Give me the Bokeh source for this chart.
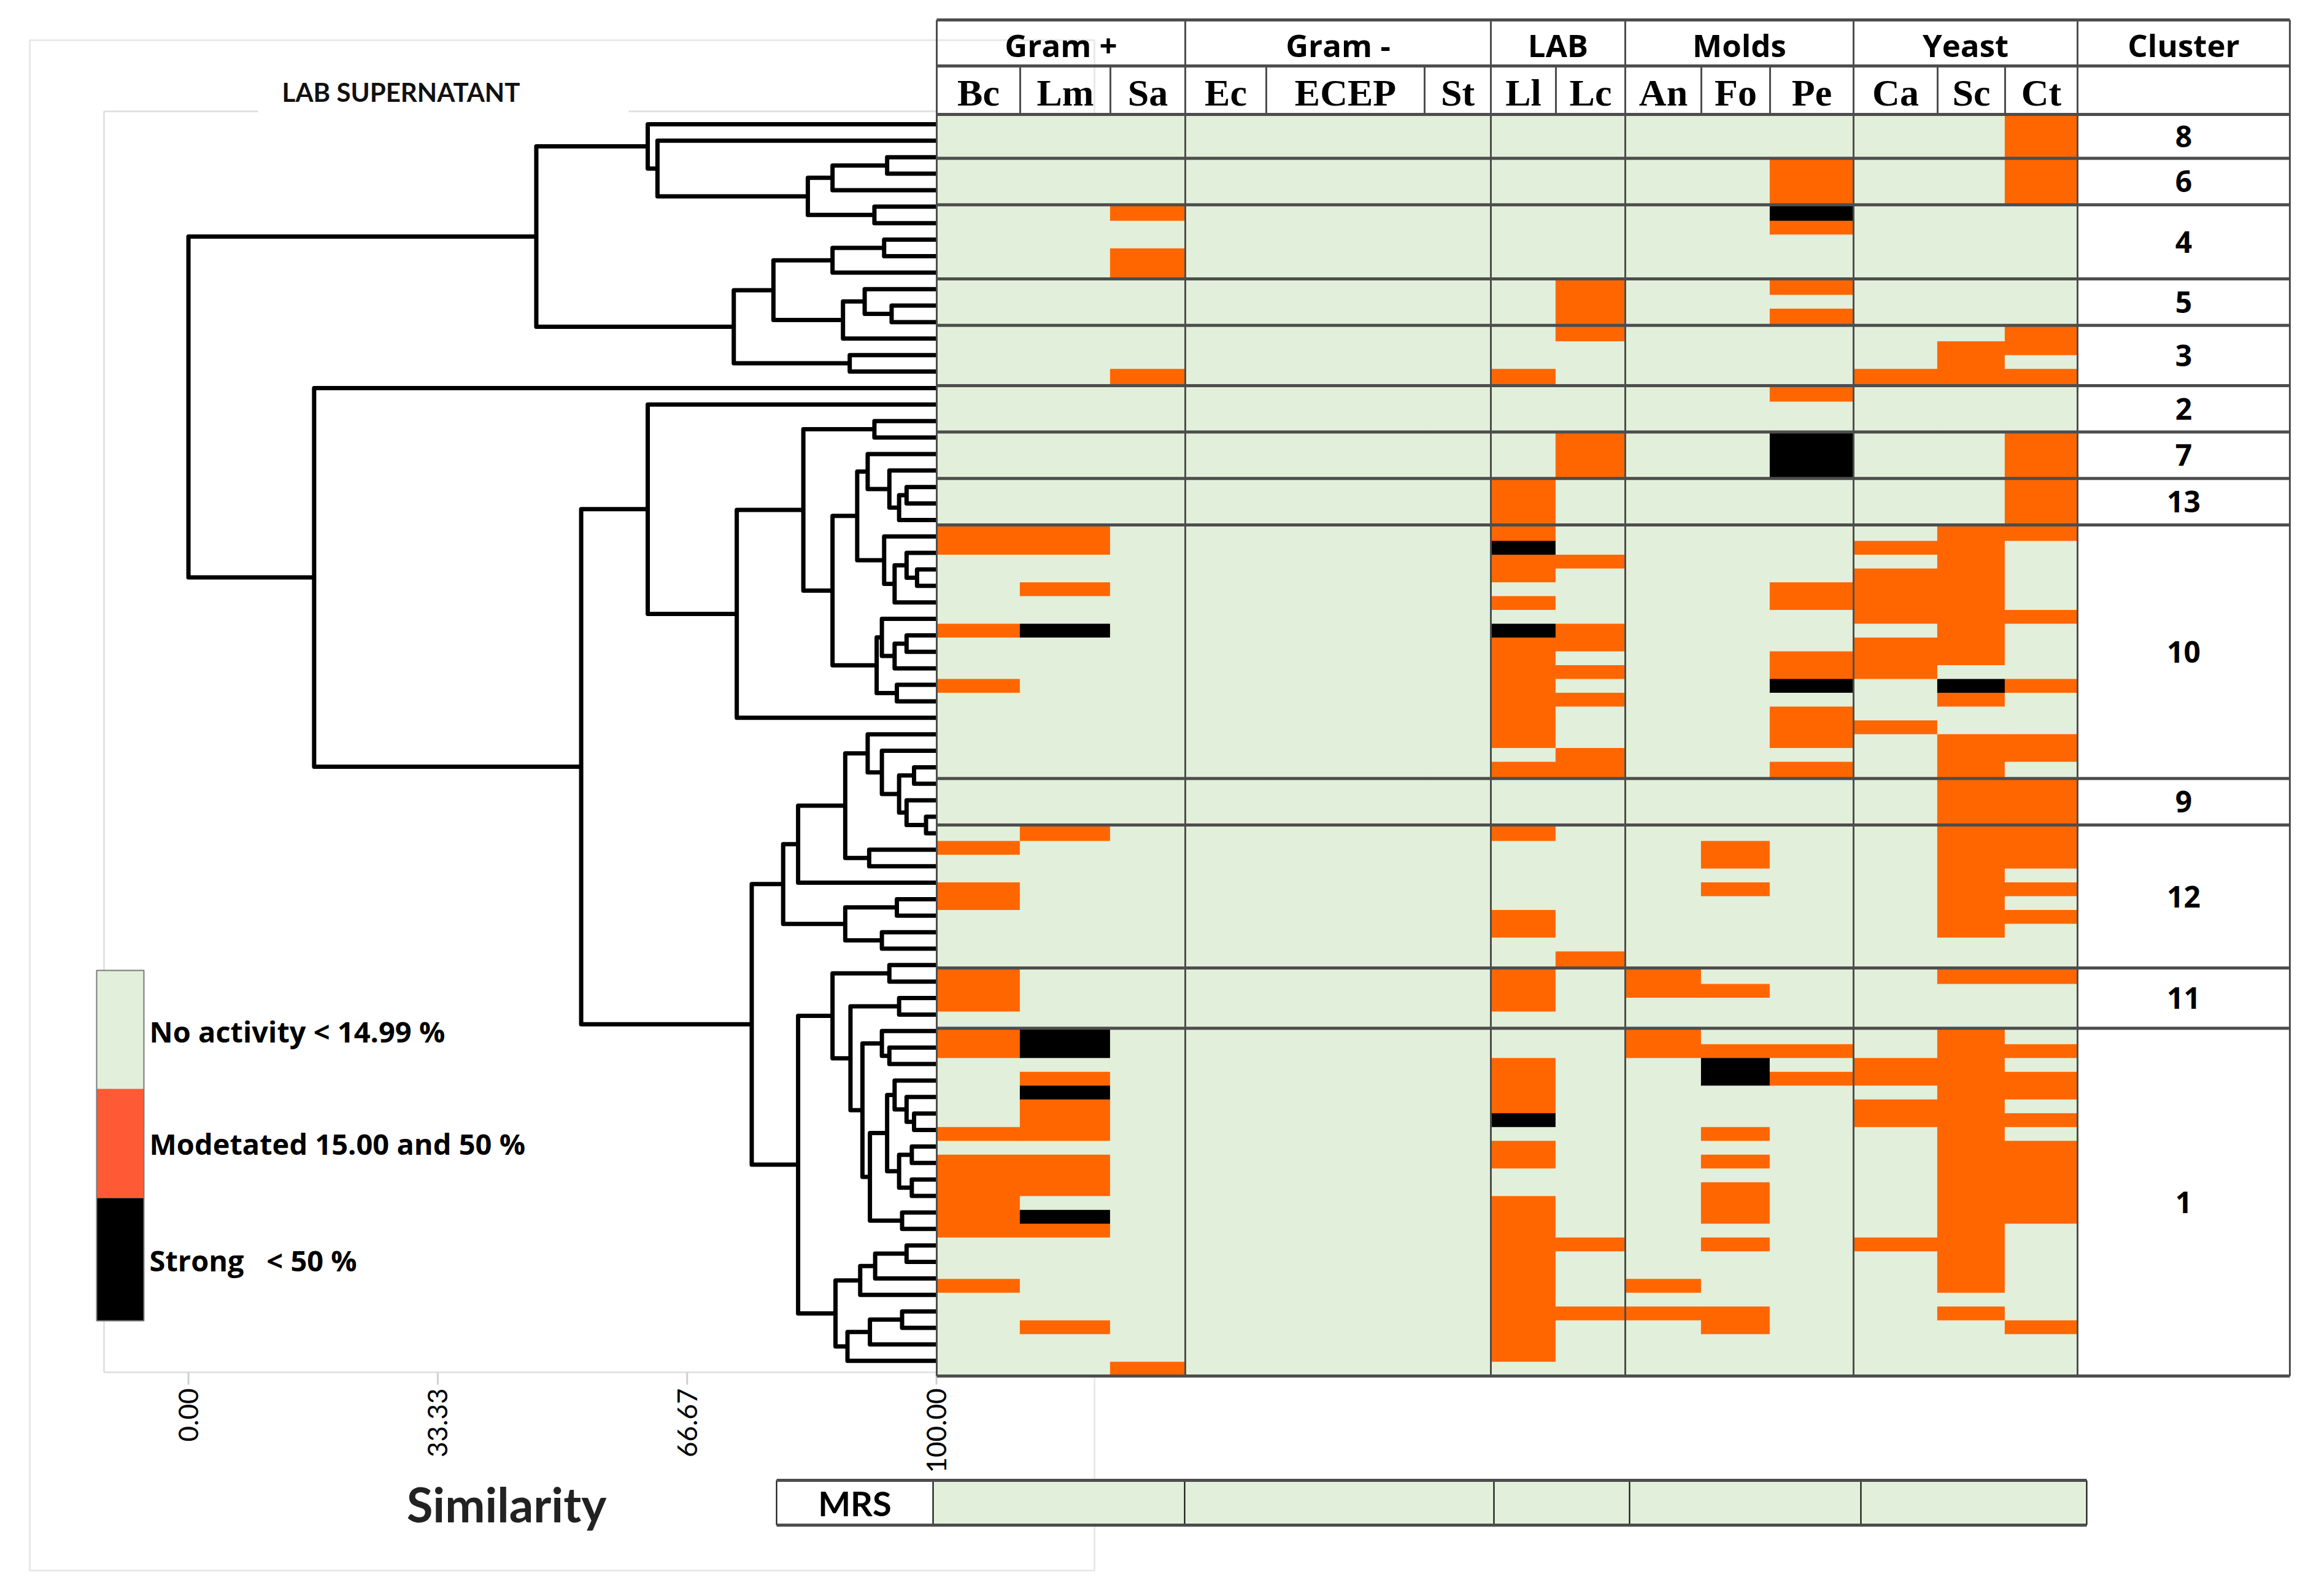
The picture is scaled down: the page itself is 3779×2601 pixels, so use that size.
import math
from bokeh.plotting import figure
from bokeh.models import Range1d
from bokeh.core.properties import value
from bokeh.embed import file_html
from bokeh.resources import INLINE

# ---------------------------------------------------------------- data
ORGANISMS = ["Bc", "Lm", "Sa", "Ec", "ECEP", "St", "Ll", "Lc", "An", "Fo", "Pe", "Ca", "Sc", "Ct"]
GROUPS = ["Gram +", "Gram -", "LAB", "Molds", "Yeast"]
GROUP_SIZES = [3, 3, 2, 3, 3]
CLUSTER_LABELS = ["8", "6", "4", "5", "3", "2", "7", "13", "10", "9", "12", "11", "1"]

# activity code per isolate and organism (column order = ORGANISMS):
# 0 = no activity, 1 = moderate, 2 = strong
rows_c8 = ["00000000000001", "00000000000001", "00000000000001"]
rows_c6 = ["00000000001001", "00000000001001", "00000000001001"]
rows_c4 = ["00100000002000", "00000000001000", "00000000000000", "00100000000000",
           "00100000000000"]
rows_c5 = ["00000001001000", "00000001000000", "00000001001000"]
rows_c3 = ["00000001000001", "00000000000011", "00000000000010", "00100010000111"]
rows_c2 = ["00000000001000", "00000000000000", "00000000000000"]
rows_c7 = ["00000001002001", "00000001002001", "00000001002001"]
rows_c13 = ["00000010000001", "00000010000001", "00000010000001"]
rows_c10 = ["11000010000011", "11000020000110", "00000011000010", "00000010000110",
            "01000000001110", "00000010001110", "00000000000111", "12000021000010",
            "00000011000110", "00000010001110", "00000011001100", "10000010002021",
            "00000011000010", "00000010001000", "00000010001100", "00000010001011",
            "00000001000011", "00000011001010"]
rows_c9 = ["00000000000011", "00000000000011", "00000000000011"]
rows_c12 = ["01000010000011", "10000000010011", "00000000010011", "00000000000010",
            "10000000010011", "10000000000010", "00000010000011", "00000010000010",
            "00000000000000", "00000001000000"]
rows_c11 = ["10000010100011", "10000010110000", "10000010000000", "00000000000000"]
rows_c1 = ["12000000100010", "12000000111011", "00000010020110", "01000010021111",
           "02000010000011", "01000010000110", "01000020000111", "11000000010010",
           "00000010000011", "11000010010011", "11000000000011", "11000000010011",
           "10000010010011", "12000010010011", "11000010000010", "00000011010110",
           "00000010000010", "00000010000010", "10000010100010", "00000010000000",
           "00000011110010", "01000010010001", "00000010000000", "00000010000000",
           "00100000000000"]
CLUSTER_ROWS = [rows_c8, rows_c6, rows_c4, rows_c5, rows_c3, rows_c2, rows_c7,
                rows_c13, rows_c10, rows_c9, rows_c12, rows_c11, rows_c1]

MRS_ACTIVITY = [0, 0, 0, 0, 0]          # one cell per organism group
LEGEND_LABELS = ["No activity < 14.99 %", "Modetated 15.00 and 50 %", "Strong   < 50 %"]
SIM_TICKS = [0.0, 33.33, 66.67, 100.0]

# dendrogram (leaves 0..75 from top); each merge: name, left child, right child, similarity
N_LEAVES = 76
NODE_NAMES = ["F", "E", "G", "D", "C", "B", "K", "J", "O", "N", "M", "I", "P", "H", "A",
              "V", "AB", "AA", "Z", "Y", "AE", "AF", "AD", "AC", "X", "AK", "AJ", "AH", "AI",
              "AG", "W", "U", "T", "S", "BI", "BK", "BJ", "BH", "BG", "BF", "BL", "BE", "BD",
              "BM1", "BM2", "BM", "BB", "BO", "BP1", "N2", "N1", "N10", "N9", "N8", "N14",
              "N15", "N13", "N7", "N12", "N6", "BQ", "BP", "BN", "R1", "R2", "R3", "R4",
              "R5", "R6", "R7", "BC", "BA", "R", "Q", "ROOT"]
NODE_LEFT = [2, "F", 5, "E", 1, 0, 7, "K", 11, 10, "N", "J", 14, "I", "B",
             18, 22, "AB", 21, 20, 27, 26, "AF", 25, "Y", 31, "AK", 30, 34,
             "AH", "X", "V", "U", 17, 39, 42, 41, "BI", 38, 37, 44, "BF", "BE",
             47, 49, "BM1", "BD", 51, 53, 56, 55, 60, 59, 58, 62,
             64, "N14", "N8", 66, "N7", "N1", "BP1", "BO", 68, "R1", "R2", 72,
             "R4", "R5", "R3", "BN", "BB", "S", 16, "A"]
NODE_RIGHT = [3, 4, 6, "G", "D", "C", 8, 9, 12, "O", 13, "M", 15, "P", "H",
              19, 23, 24, "AA", "Z", 28, "AE", 29, "AD", "AC", 32, 33, "AJ", 35,
              "AI", "AG", "W", 36, "T", 40, 43, "BK", "BJ", "BH", "BG", 45, "BL", 46,
              48, 50, "BM2", "BM", 52, 54, 57, "N2", 61, "N10", "N9", 63,
              65, "N15", "N13", 67, "N12", "N6", "BQ", "BP", 69, 70, 71, 73,
              74, 75, "R6", "R7", "BC", "BA", "R", "Q"]
NODE_SIM = [93.4, 86.1, 91.7, 82.8, 62.7, 61.4, 93.0, 86.1, 94.0, 90.4, 87.5, 78.2, 88.4, 72.9, 46.5,
            91.7, 96.0, 95.0, 93.7, 90.8, 97.4, 96.0, 94.4, 93.0, 89.4, 96.0, 94.4, 92.7, 94.7,
            92.0, 86.1, 82.2, 73.3, 61.4, 97.0, 98.6, 96.0, 95.0, 92.7, 90.8, 91.0, 87.8, 81.5,
            94.7, 92.7, 87.8, 79.5, 93.7, 95.0, 93.7, 92.7, 97.0, 96.0, 94.4, 96.7,
            96.7, 95.0, 93.4, 95.4, 91.1, 90.1, 88.5, 86.1, 96.0, 91.8, 89.8, 95.4,
            91.1, 88.1, 86.5, 81.5, 75.3, 52.5, 16.8, 0.0]

# ---------------------------------------------------------------- styles / layout
GREEN, ORANGE, BLACK = "#E2EFDA", "#FF6600", "#000000"
ACTIVITY_COLORS = [GREEN, ORANGE, BLACK]
LEGEND_COLORS = [GREEN, "#FF5A36", BLACK]
GRID = "#4d4d4d"
FAINT = "#e2e2e2"
SANS = value("Lato")
HEAD = value("Open Sans")
SERIF = value("Liberation Serif")

W, H = 3760, 2582
SIM0_PX, SIM100_PX = 306.6, 1525.6
SIM_PX = (SIM100_PX - SIM0_PX) / 100.0
LEAF0_PX, LEAF_STEP = 202.0, 26.87
ROW0_PX, ROW_STEP = 186.0, 22.5
ROW_GAP = 8.2 / ROW_STEP
HM_LEFT = 1526.0
COL_WIDTHS = [136, 147, 122, 132, 258, 108, 106, 113, 124, 112, 136, 137, 110, 118]
CLUSTER_COL_W = 346
HDR_TOP, HDR_MID = 32.0, 107.0

X0, X1 = 0, W
Y0, Y1 = 0, H

p = figure(width=W, height=H, output_backend="svg", toolbar_location=None,
           x_range=Range1d(X0, X1), y_range=Range1d(Y1, Y0),
           x_axis_location=None, y_axis_location=None, min_border=0)
p.grid.visible = False
p.outline_line_color = None
p.background_fill_color = "white"
p.border_fill_color = "white"
p.extra_x_ranges = {"sim": Range1d((X0 - SIM0_PX) / SIM_PX, (X1 - SIM0_PX) / SIM_PX)}
p.extra_y_ranges = {
    "leaf": Range1d((Y1 - LEAF0_PX) / LEAF_STEP, (Y0 - LEAF0_PX) / LEAF_STEP),
    "row": Range1d((Y1 - ROW0_PX) / ROW_STEP, (Y0 - ROW0_PX) / ROW_STEP),
}

# ---------------------------------------------------------------- dendrogram panel frames
p.quad(left=[48], right=[1783], top=[65], bottom=[2559], fill_alpha=0,
       line_color="#e9e9e9", line_width=3)
p.segment(x0=[169, 169, 1024, 169], y0=[181, 181, 181, 2236],
          x1=[169, 420, SIM100_PX, SIM100_PX], y1=[2236, 181, 181, 2236],
          line_color=FAINT, line_width=3)
p.segment(x0=SIM_TICKS, x1=SIM_TICKS, y0=[2236] * len(SIM_TICKS), y1=[2256] * len(SIM_TICKS),
          x_range_name="sim", line_color="#d0d0d0", line_width=3)
p.text(x=SIM_TICKS, y=[2262] * len(SIM_TICKS), text=["%.2f" % t for t in SIM_TICKS],
       x_range_name="sim", angle=math.pi / 2, text_align="right", text_baseline="middle",
       text_font=SANS, text_font_size=value("44px"), text_color="black")
p.text(x=[653], y=[149], text=["LAB SUPERNATANT"], text_align="center", text_baseline="middle",
       text_font=SANS, text_font_size=value("42px"), text_font_style="bold", text_color="#111")
p.text(x=[825], y=[2450], text=["Similarity"], text_align="center", text_baseline="middle",
       text_font=SANS, text_font_size=value("78px"), text_font_style="bold", text_color="#222")

# ---------------------------------------------------------------- dendrogram
pos = {i: (100.0, float(i)) for i in range(N_LEAVES)}
dxs, dys = [], []
for name, a, b, s in zip(NODE_NAMES, NODE_LEFT, NODE_RIGHT, NODE_SIM):
    xa, ya = pos[a]
    xb, yb = pos[b]
    dxs.append([xa, s, s, xb])
    dys.append([ya, ya, yb, yb])
    pos[name] = (s, (ya + yb) / 2.0)
p.multi_line(dxs, dys, x_range_name="sim", y_range_name="leaf",
             line_color="black", line_width=7, line_join="round")

# ---------------------------------------------------------------- heatmap
col_edges = [HM_LEFT]
for w_ in COL_WIDTHS:
    col_edges.append(col_edges[-1] + w_)
HM_RIGHT = col_edges[-1]
TABLE_RIGHT = HM_RIGHT + CLUSTER_COL_W

bands, grows = [], []
u = 0.0
nc = len(CLUSTER_ROWS)
for c, rows in enumerate(CLUSTER_ROWS):
    n = len(rows)
    btop = u - (ROW_GAP / 2 if c > 0 else 0.0)
    bbot = u + n + (ROW_GAP / 2 if c < nc - 1 else 0.0)
    bands.append((btop, bbot))
    for r, code in enumerate(rows):
        t = btop if r == 0 else u + r
        b = bbot if r == n - 1 else u + r + 1
        grows.append((t, b, code))
    u = u + n + ROW_GAP
U_END = bands[-1][1]
HM_BOTTOM_PX = ROW0_PX + ROW_STEP * U_END

ql, qr, qt, qb, qc = [], [], [], [], []
for j in range(len(ORGANISMS)):
    run = None
    for t, b, code in grows:
        v = int(code[j])
        if run is not None and run[2] == v:
            run[1] = b
        else:
            if run is not None:
                ql.append(col_edges[j]); qr.append(col_edges[j + 1])
                qt.append(run[0]); qb.append(run[1]); qc.append(ACTIVITY_COLORS[run[2]])
            run = [t, b, v]
    ql.append(col_edges[j]); qr.append(col_edges[j + 1])
    qt.append(run[0]); qb.append(run[1]); qc.append(ACTIVITY_COLORS[run[2]])
p.quad(left=ql, right=qr, top=qt, bottom=qb, fill_color=qc, line_color=qc, line_width=1.2,
       y_range_name="row")

# cluster separators (also heatmap top / bottom)
sep_u = [0.0] + [bands[c][0] for c in range(1, nc)] + [U_END]
p.segment(x0=[HM_LEFT] * len(sep_u), x1=[TABLE_RIGHT] * len(sep_u), y0=sep_u, y1=sep_u,
          y_range_name="row", line_color=GRID, line_width=5)

# group vertical lines through header and heatmap
gidx = [0]
for gs in GROUP_SIZES:
    gidx.append(gidx[-1] + gs)
gx = [col_edges[i] for i in gidx] + [TABLE_RIGHT]
p.segment(x0=gx, x1=gx, y0=[HDR_TOP] * len(gx), y1=[HM_BOTTOM_PX] * len(gx),
          line_color=GRID, line_width=3)
# header horizontal lines
p.segment(x0=[HM_LEFT, HM_LEFT], x1=[TABLE_RIGHT, TABLE_RIGHT], y0=[HDR_TOP, HDR_MID],
          y1=[HDR_TOP, HDR_MID], line_color=GRID, line_width=5)
# sub-column separators in header
sx = [col_edges[i] for i in range(1, len(ORGANISMS)) if i not in gidx]
p.segment(x0=sx, x1=sx, y0=[HDR_MID] * len(sx), y1=[ROW0_PX] * len(sx),
          line_color=GRID, line_width=3)

# header texts
gcx = [(col_edges[gidx[k]] + col_edges[gidx[k + 1]]) / 2 for k in range(len(GROUPS))]
p.text(x=gcx + [(HM_RIGHT + TABLE_RIGHT) / 2], y=[72] * (len(GROUPS) + 1),
       text=GROUPS + ["Cluster"], text_align="center", text_baseline="middle",
       text_font=HEAD, text_font_size=value("51px"), text_font_style="bold", text_color="black")
ccx = [(col_edges[j] + col_edges[j + 1]) / 2 for j in range(len(ORGANISMS))]
p.text(x=ccx, y=[150] * len(ORGANISMS), text=ORGANISMS, text_align="center",
       text_baseline="middle", text_font=SERIF, text_font_size=value("62px"),
       text_font_style="bold", text_color="black")

# cluster labels
p.text(x=[(HM_RIGHT + TABLE_RIGHT) / 2] * nc, y=[(t + b) / 2 for t, b in bands],
       text=CLUSTER_LABELS, y_range_name="row", text_align="center", text_baseline="middle",
       text_font=HEAD, text_font_size=value("48px"), text_font_style="bold", text_color="black")

# ---------------------------------------------------------------- legend
LEG_X0, LEG_X1 = 157, 234
leg_edges = [1581, 1774, 1952, 2152]
p.quad(left=[LEG_X0] * 3, right=[LEG_X1] * 3, top=leg_edges[:-1], bottom=leg_edges[1:],
       fill_color=LEGEND_COLORS, line_color=None)
p.quad(left=[LEG_X0], right=[LEG_X1], top=[leg_edges[0]], bottom=[leg_edges[-1]],
       fill_alpha=0, line_color="#7a7a7a", line_width=2)
p.text(x=[243] * 3, y=[1680, 1863, 2053], text=[t.replace(" ", "\u00a0") for t in LEGEND_LABELS],
       text_align="left", text_baseline="middle", text_font=HEAD,
       text_font_size=value("47px"), text_font_style="bold", text_color="black")

# ---------------------------------------------------------------- MRS bar
MRS_LABEL_X0 = 1265
mrs_edges = [1520, 1930, 2434, 2655, 3032, 3400]
MRS_T, MRS_B = 2412, 2485
p.quad(left=mrs_edges[:-1], right=mrs_edges[1:], top=[MRS_T] * 5, bottom=[MRS_B] * 5,
       fill_color=[ACTIVITY_COLORS[v] for v in MRS_ACTIVITY], line_color=None)
vx = [MRS_LABEL_X0] + mrs_edges
p.segment(x0=vx, x1=vx, y0=[MRS_T] * len(vx), y1=[MRS_B] * len(vx),
          line_color="black", line_width=2)
p.segment(x0=[MRS_LABEL_X0] * 2, x1=[mrs_edges[-1]] * 2, y0=[MRS_T, MRS_B], y1=[MRS_T, MRS_B],
          line_color=GRID, line_width=5)
p.text(x=[(MRS_LABEL_X0 + mrs_edges[0]) / 2], y=[(MRS_T + MRS_B) / 2], text=["MRS"],
       text_align="center", text_baseline="middle", text_font=SANS,
       text_font_size=value("56px"), text_font_style="bold", text_color="black")

open("out.html", "w").write(file_html(p, INLINE))
